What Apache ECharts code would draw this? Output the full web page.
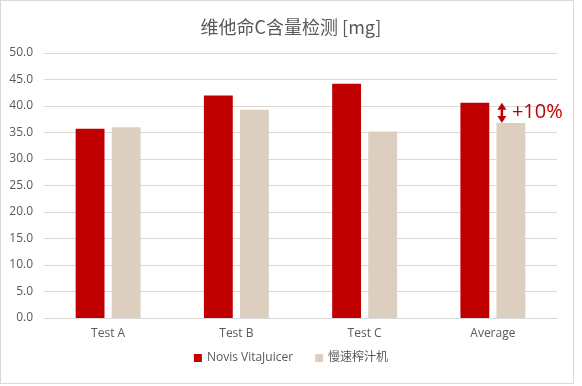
<!DOCTYPE html>
<html><head><meta charset="utf-8">
<script src="https://cdn.jsdelivr.net/npm/echarts@6/dist/echarts.min.js"></script>
<style>html,body{margin:0;padding:0;background:#fff}#c{width:582px;height:386px;position:absolute;left:0;top:0}
#b{position:absolute;left:0;top:0;width:574px;height:384px;box-sizing:border-box;border:1px solid #d9d9d9;pointer-events:none}</style>
</head><body><div id="c"></div><div id="b"></div>
<script>
const categories = ['Test A', 'Test B', 'Test C', 'Average'];
const novis = [35.7, 42.0, 44.2, 40.6];
const slow = [36.0, 39.3, 35.2, 36.8];
const seriesNames = ['Novis VitaJuicer', '慢速榨汁机'];
const titleText = '维他命C含量检测 [mg]';
const annotationText = '+10%';

const font = '"Open Sans", "Noto Sans CJK SC", sans-serif';
const chart = echarts.init(document.getElementById('c'), null, {renderer: 'canvas'});
chart.setOption({
  animation: false,
  title: {text: titleText, left: 286, textAlign: 'center', top: 13,
    textStyle: {fontFamily: '"Noto Sans CJK SC", sans-serif', fontSize: 18, fontWeight: 'normal', color: '#595959'}},
  legend: {bottom: 17, left: 'center', itemWidth: 8, itemHeight: 8, itemGap: 22, icon: 'rect',
    textStyle: {fontFamily: font, fontSize: 12, color: '#595959'}},
  grid: {left: 44, right: 25, top: 53, bottom: 68},
  xAxis: {type: 'category', data: categories,
    axisLine: {lineStyle: {color: '#d9d9d9', width: 1}}, axisTick: {show: false},
    axisLabel: {fontFamily: font, fontSize: 12, color: '#595959', margin: 10}},
  yAxis: {type: 'value', min: 0, max: 50, interval: 5,
    axisLine: {show: false}, axisTick: {show: false},
    splitLine: {lineStyle: {color: '#d9d9d9', width: 1}},
    axisLabel: {fontFamily: font, fontSize: 12, color: '#595959', margin: 11, formatter: v => v.toFixed(1)}},
  series: [
    {name: seriesNames[0], type: 'bar', data: novis, barWidth: '22.5%', barGap: '25%', itemStyle: {color: '#c00000'}},
    {name: seriesNames[1], type: 'bar', data: slow, barWidth: '22.5%', itemStyle: {color: '#dccfbf'}}
  ]
});
// annotation arrow between average bars
const pTop = chart.convertToPixel({seriesIndex: 0}, [3, novis[3]]);
const pBot = chart.convertToPixel({seriesIndex: 1}, [3, slow[3]]);
const bx = chart.convertToPixel({seriesIndex: 1}, [3, 0])[0];
const ax = bx + 9;
const y1 = pTop[1], y2 = pBot[1];
chart.setOption({graphic: [
  {type: 'line', shape: {x1: ax, y1: y1 + 5, x2: ax, y2: y2 - 5}, style: {stroke: '#c00000', lineWidth: 2.5}},
  {type: 'polygon', shape: {points: [[ax - 4.5, y1 + 7], [ax + 4.5, y1 + 7], [ax, y1]]}, style: {fill: '#c00000'}},
  {type: 'polygon', shape: {points: [[ax - 4.5, y2 - 7], [ax + 4.5, y2 - 7], [ax, y2]]}, style: {fill: '#c00000'}},
  {type: 'text', x: ax + 10, y: (y1 + y2) / 2 - 1, style: {text: annotationText, fill: '#c00000', fontSize: 20, fontFamily: font, verticalAlign: 'middle'}}
]});
</script></body></html>
